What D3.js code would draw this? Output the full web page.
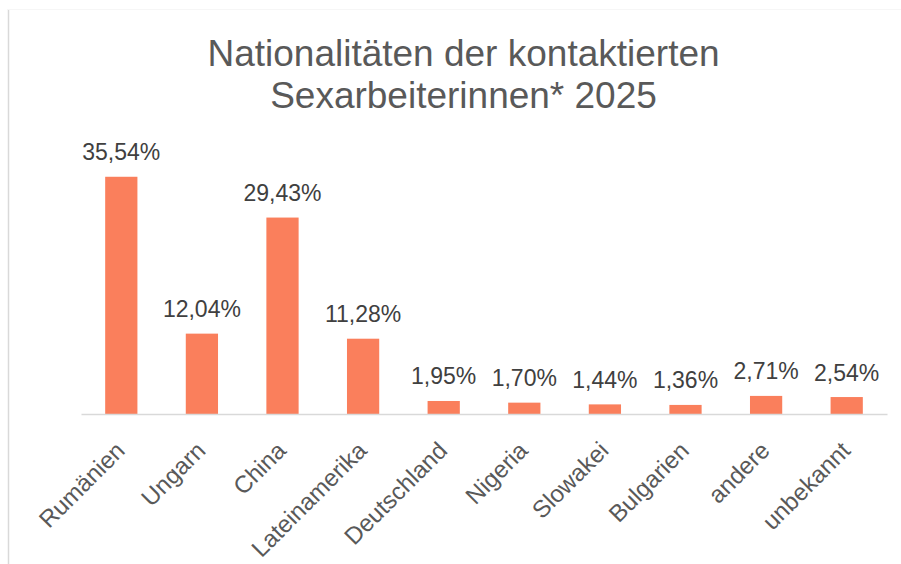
<!DOCTYPE html>
<html>
<head>
<meta charset="utf-8">
<script src="https://cdn.jsdelivr.net/npm/d3@7"></script>
<style>
  body { margin: 0; background: #fff; }
  text { font-family: "Liberation Sans", Arial, sans-serif; }
</style>
</head>
<body>
<div id="chart"></div>
<script>
/* Column chart: nationalities of contacted sex workers 2025 */

const categories = ["Rumänien", "Ungarn", "China", "Lateinamerika", "Deutschland",
  "Nigeria", "Slowakei", "Bulgarien", "andere", "unbekannt"];
const percents = [35.54, 12.04, 29.43, 11.28, 1.95, 1.70, 1.44, 1.36, 2.71, 2.54];
const titleLines = ["Nationalitäten der kontaktierten", "Sexarbeiterinnen* 2025"];

const width = 901, height = 564;
const data = categories.map((c, i) => ({ name: c, value: percents[i] }));

const svg = d3.select("#chart")
  .append("svg")
  .attr("width", width)
  .attr("height", height);

// chart frame (only left + faint top visible in the original)
svg.append("line")
  .attr("x1", 8.5).attr("x2", 8.5).attr("y1", 9).attr("y2", height)
  .attr("stroke", "#d9d9d9").attr("stroke-width", 1.5);
svg.append("line")
  .attr("x1", 8).attr("x2", width).attr("y1", 9.5).attr("y2", 9.5)
  .attr("stroke", "#f6f6f6").attr("stroke-width", 1);

const x = d3.scaleBand()
  .domain(categories)
  .range([81, 887])
  .paddingInner(0.6)
  .paddingOuter(0.3);

const y = d3.scaleLinear()
  .domain([0, 40])
  .range([414, 147]);

// title
svg.append("text")
  .attr("text-anchor", "middle")
  .attr("fill", "#595959")
  .attr("font-size", 37)
  .selectAll("tspan")
  .data(titleLines)
  .join("tspan")
  .attr("x", 463.5)
  .attr("y", (d, i) => 66 + i * 42)
  .text(d => d);

// bars
svg.append("g")
  .attr("fill", "#fa7f5c")
  .selectAll("rect")
  .data(data)
  .join("rect")
  .attr("x", d => x(d.name))
  .attr("y", d => y(d.value))
  .attr("width", x.bandwidth())
  .attr("height", d => y(0) - y(d.value));

// x axis line
const xAxis = svg.append("g")
  .attr("transform", `translate(0,${y(0)})`)
  .call(d3.axisBottom(x).tickSize(0).tickFormat(""));
xAxis.select(".domain")
  .attr("stroke", "#d9d9d9")
  .attr("stroke-width", 1.5);

// rotated category labels
svg.append("g")
  .attr("font-size", 24)
  .attr("fill", "#595959")
  .attr("text-anchor", "end")
  .selectAll("text")
  .data(data)
  .join("text")
  .attr("transform", d => `translate(${x(d.name) + x.bandwidth() / 2 + 5},452) rotate(-45)`)
  .text(d => d.name);

// value labels
svg.append("g")
  .attr("font-size", 23)
  .attr("fill", "#404040")
  .attr("text-anchor", "middle")
  .selectAll("text")
  .data(data)
  .join("text")
  .attr("x", d => x(d.name) + x.bandwidth() / 2)
  .attr("y", d => y(d.value) - 16.5)
  .text(d => d3.format(".2f")(d.value).replace(".", ",") + "%");
</script>
</body>
</html>
